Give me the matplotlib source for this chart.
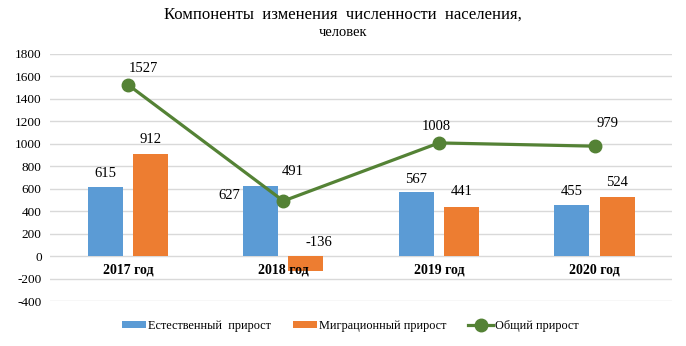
import numpy as np
import matplotlib
matplotlib.use("Agg")
import matplotlib.pyplot as plt

years = ["2017 год", "2018 год", "2019 год", "2020 год"]
natural = [615, 627, 567, 455]
migration = [912, -136, 441, 524]
total = [1527, 491, 1008, 979]

plt.rcParams['font.family'] = ['Liberation Serif', 'DejaVu Serif']
plt.rcParams['axes.unicode_minus'] = False

fig = plt.figure(figsize=(6.86, 3.46), dpi=100)
ax = fig.add_axes([0.073, 0.13, 0.907, 0.714])

x = np.arange(len(years))
w = 0.225
off = 0.145
b1 = ax.bar(x - off, natural, width=w, color='#5b9bd5', label='Естественный  прирост', zorder=2)
b2 = ax.bar(x + off, migration, width=w, color='#ed7d31', label='Миграционный прирост', zorder=2)
ln, = ax.plot(x, total, color='#548235', lw=2.3, marker='o', ms=9, label='Общий прирост', zorder=3)

# label offsets in points (dx, dy), measured from bar top / marker centre
nat_offsets = [(0, 9.5), (-23, -7), (0, 9.5), (0, 9.5)]
mig_offsets = [(0, 10.5), (9, 10), (0, 10.5), (0, 10.5)]
tot_offsets = [(11, 11.5), (6.5, 21.5), (-2, 12), (9, 16.5)]

for i in range(len(years)):
    ax.annotate(str(natural[i]), (x[i] - off, max(natural[i], 0)), xytext=nat_offsets[i],
                textcoords='offset points', ha='center', va='center', fontsize=10.5)
    ax.annotate(str(migration[i]), (x[i] + off, max(migration[i], 0)), xytext=mig_offsets[i],
                textcoords='offset points', ha='center', va='center', fontsize=10.5)
    ax.annotate(str(total[i]), (x[i], total[i]), xytext=tot_offsets[i],
                textcoords='offset points', ha='center', va='center', fontsize=10.5)

# category labels sit just under the zero line
for i, yr in enumerate(years):
    ax.text(x[i], -125, yr, ha='center', va='center', fontsize=10, fontweight='bold', zorder=4)

ax.set_xlim(-0.5, len(years) - 0.5)
ax.set_ylim(-400, 1800)
ax.set_yticks(range(-400, 1801, 200))
ax.set_xticks([])
ax.yaxis.grid(True, color='#d9d9d9', lw=1)
ax.set_axisbelow(True)
for s in ax.spines.values():
    s.set_visible(False)
ax.tick_params(axis='y', length=0, labelsize=9.5, pad=6)

fig.text(0.5, 0.957, 'Компоненты  изменения  численности  населения,', ha='center', va='center', fontsize=12)
fig.text(0.5, 0.905, 'человек', ha='center', va='center', fontsize=10.5)

ax.legend(handles=[b1, b2, ln], loc='center', bbox_to_anchor=(0.51, 0.057),
          bbox_transform=fig.transFigure, ncol=3, frameon=False, fontsize=8.8,
          handlelength=2.0, handleheight=0.5, columnspacing=1.8, handletextpad=0.15)

fig.savefig('out.png', dpi=100)
